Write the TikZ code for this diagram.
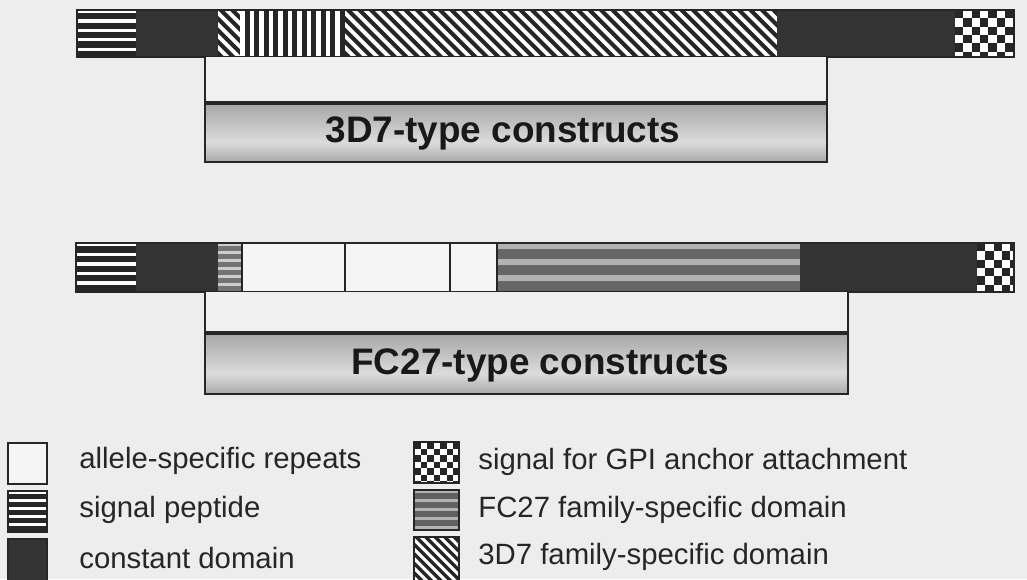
\documentclass[tikz,border=0pt]{standalone}
\usepackage{fontspec}
\setmainfont{Liberation Sans}

% fills for the domain blocks: box corners, period, ground, ink
\newcommand\hstripes[7]{%
  \begin{scope}
    \clip (#1,#2) rectangle (#3,#4);
    \fill[#6] (#1,#2) rectangle (#3,#4);
    \foreach \k in {0,...,10}
      \fill[#7] (#1,{#2+\k*#5+0.35*#5}) rectangle (#3,{#2+\k*#5+#5});
  \end{scope}}
\newcommand\vstripes[7]{%
  \begin{scope}
    \clip (#1,#2) rectangle (#3,#4);
    \fill[#6] (#1,#2) rectangle (#3,#4);
    \foreach \k in {0,...,16}
      \fill[#7] ({#1+\k*#5+0.5*#5},#2) rectangle ({#1+\k*#5+#5},#4);
  \end{scope}}
\newcommand\dstripes[7]{%
  \begin{scope}
    \clip (#1,#2) rectangle (#3,#4);
    \fill[#6] (#1,#2) rectangle (#3,#4);
    \foreach \k in {-6,...,52}
      \fill[#7] ({#1+\k*#5},#2) -- ({#1+\k*#5+0.5*#5},#2)
        -- ({#1+\k*#5+0.5*#5+#4-#2},#4) -- ({#1+\k*#5+#4-#2},#4) -- cycle;
  \end{scope}}
\newcommand\checks[5]{%
  \begin{scope}
    \clip (#1,#2) rectangle (#3,#4);
    \fill[white] (#1,#2) rectangle (#3,#4);
    \foreach \i in {0,...,7}
      \foreach \j in {0,...,6}{
        \pgfmathtruncatemacro\cpar{mod(\i+\j,2)}
        \ifnum\cpar=0
          \fill[black!85] ({#1+\i*#5},{#2+\j*#5}) rectangle ++(#5,#5);
        \fi}
  \end{scope}}
\pgfdeclareverticalshading{tube}{100bp}{color(0bp)=(black!62); color(15bp)=(black!45); color(42bp)=(black!14); color(75bp)=(black!35); color(100bp)=(black!55)}

\begin{document}
\begin{tikzpicture}[x=0.02cm,y=-0.02cm,
  constdom/.style={fill=black!80},
  allrep/.style={fill=white!96!black},
  barline/.style={line width=1.6pt,draw=black!85},
  tubeline/.style={line width=1.3pt,draw=black!85},
  legbox/.style={line width=1.3pt,draw=black!85},
  legtext/.style={anchor=west,inner sep=0pt,font=\fontsize{16.7}{20}\selectfont,text=black!85},
  tubelabel/.style={inner sep=0pt,font=\bfseries\fontsize{21}{25}\selectfont,text=black!90}]
\useasboundingbox (0,0) rectangle (1027,579);
\fill[black!7] (0,0) rectangle (1027,579);

% 3D7 precursor
\hstripes{77}{10}{136}{57}{9.4}{white}{black!85}
\path[constdom] (136,10) rectangle (218,57);
\dstripes{218}{10}{240}{57}{11.5}{white}{black!85}
\vstripes{240}{10}{345}{57}{9.5}{white}{black!85}
\dstripes{345}{10}{777}{57}{11.5}{white}{black!85}
\path[constdom] (777,10) rectangle (955,57);
\checks{955}{10}{1014}{57}{8.3}
\draw[barline] (77,10) rectangle (1014,57);

% 3D7 construct
\fill[white!94!black] (205,57) rectangle (827,103);
\shade[shading=tube] (205,103) rectangle (827,162);
\draw[tubeline] (205,57) -- (205,162) -- (827,162) -- (827,57);
\draw[tubeline,line width=1.8pt] (205,103) -- (827,103);
\node[tubelabel] (lab3d7) at (503,133) {3D7-type constructs};

% FC27 precursor
\hstripes{76}{243}{136}{292}{9.6}{white}{black!85}
\path[constdom] (136,243) rectangle (218,292);
\hstripes{218}{243}{242}{292}{8}{white!80!black}{black!55}
\path[allrep] (242,243) rectangle (497,292);
\hstripes{497}{243}{800}{292}{16}{black!30}{black!60}
\path[constdom] (800,243) rectangle (977,292);
\checks{977}{243}{1014}{292}{8.3}
\draw[barline] (242,243) -- (242,292) (345,243) -- (345,292)
  (450,243) -- (450,292) (497,243) -- (497,292);
\draw[barline] (76,243) rectangle (1014,292);

% FC27 construct
\fill[white!94!black] (205,292) rectangle (848,333);
\shade[shading=tube] (205,333) rectangle (848,394);
\draw[tubeline] (205,292) -- (205,394) -- (848,394) -- (848,292);
\draw[tubeline,line width=1.8pt] (205,333) -- (848,333);
\node[tubelabel] (labfc27) at (540,365) {FC27-type constructs};

% key
\draw[legbox,allrep] (8,443) rectangle (47,484);
\hstripes{8}{491}{47}{532}{8}{white}{black!85}
\draw[legbox] (8,491) rectangle (47,532);
\draw[legbox,constdom] (8,539) rectangle (47,583);
\node[legtext] (keyrep) at (79,461) {allele-specific repeats};
\node[legtext] (keysig) at (79,510) {signal peptide};
\node[legtext] (keycon) at (79,558) {constant domain};
\checks{414}{442}{459}{483}{6.5}
\draw[legbox] (414,442) rectangle (459,483);
\hstripes{414}{490}{459}{530}{9}{black!30}{black!62}
\draw[legbox] (414,490) rectangle (459,530);
\dstripes{414}{537}{459}{583}{9.5}{white}{black!85}
\draw[legbox] (414,537) rectangle (459,583);
\node[legtext] (keygpi) at (478,462) {signal for GPI anchor attachment};
\node[legtext] (keyfc) at (478,510) {FC27 family-specific domain};
\node[legtext] (key3d) at (478,557) {3D7 family-specific domain};
\end{tikzpicture}
\end{document}
